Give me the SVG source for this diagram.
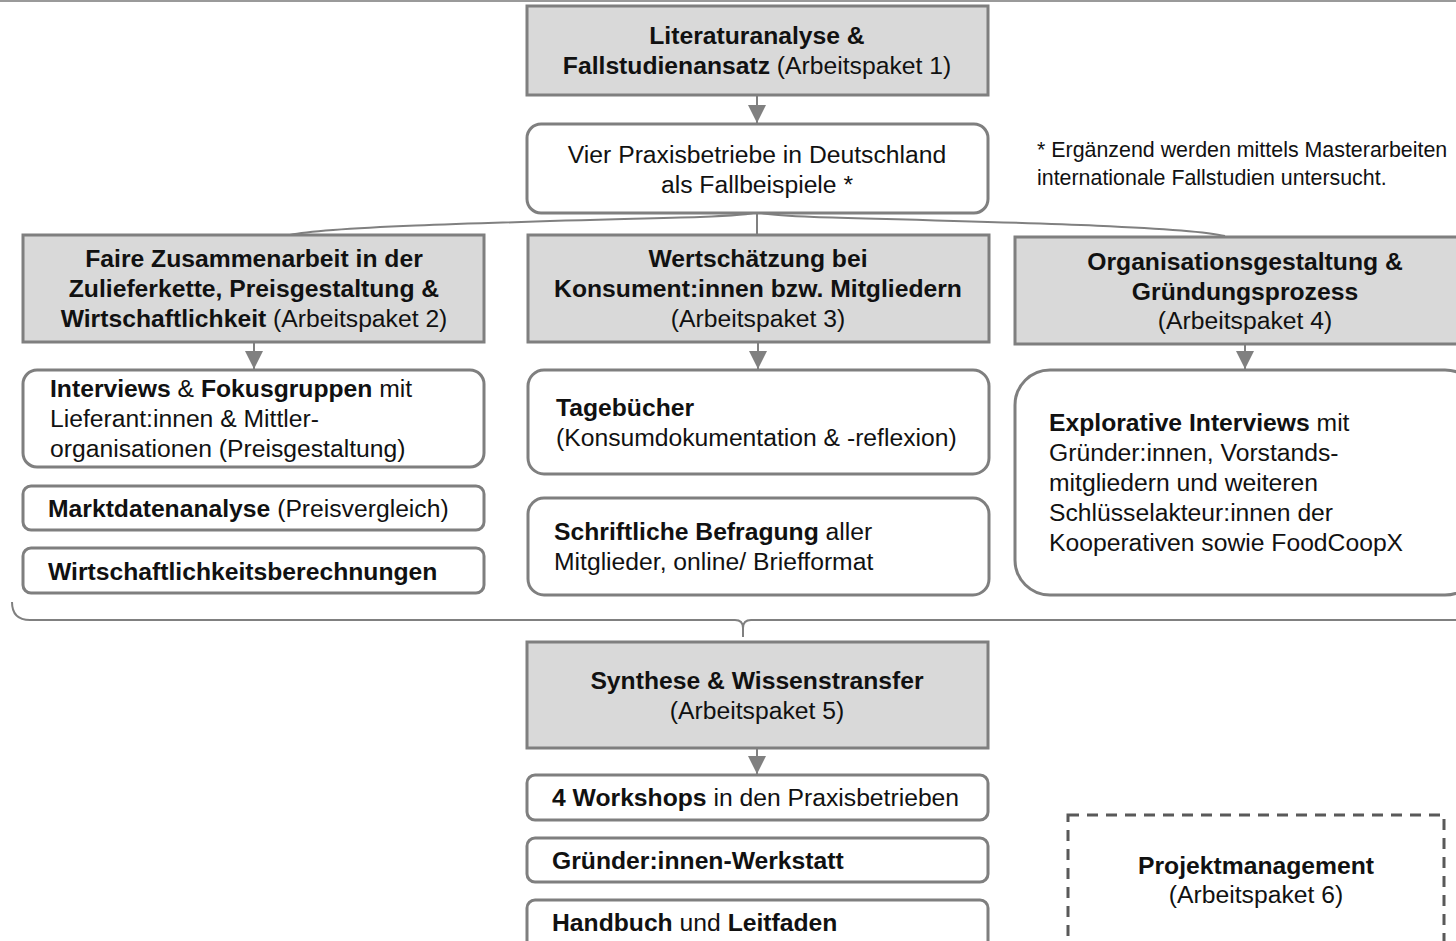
<svg xmlns="http://www.w3.org/2000/svg" width="1456" height="941" viewBox="0 0 1456 941">
<defs>
<style>
.g{fill:#d9d9d9;stroke:#7f7f7f;stroke-width:3}
.w{fill:#ffffff;stroke:#7f7f7f;stroke-width:3}
.d{fill:none;stroke:#595959;stroke-width:3;stroke-dasharray:11 8}
.c{fill:none;stroke:#808080;stroke-width:2}
text{font-family:"Liberation Sans",Arial,sans-serif;font-size:24.7px;fill:#111}
.m{text-anchor:middle}
.b{font-weight:bold}
.n{font-size:21.4px}
</style>
<marker id="ah" viewBox="0 0 18 18" refX="18" refY="9" markerWidth="18" markerHeight="18" markerUnits="userSpaceOnUse" orient="auto">
<path d="M0,0 L18,9 L0,18 Z" fill="#808080"/>
</marker>
</defs>
<rect width="1456" height="941" fill="#ffffff"/>
<line x1="0" y1="1" x2="1456" y2="1" stroke="#9a9a9a" stroke-width="2"/>

<g id="connectors">
<line class="c" x1="757" y1="96" x2="757" y2="123" marker-end="url(#ah)"/>
<path class="c" d="M290,235 C330,226 520,222 700,217 Q750,215 757,212 Q764,215 814,217 C994,222 1185,226 1225,236"/>
<line class="c" x1="757" y1="213" x2="757" y2="235"/>
<line class="c" x1="254" y1="343" x2="254" y2="369" marker-end="url(#ah)"/>
<line class="c" x1="758" y1="343" x2="758" y2="369" marker-end="url(#ah)"/>
<line class="c" x1="1245" y1="345" x2="1245" y2="369" marker-end="url(#ah)"/>
<path class="c" d="M12,602 Q12,620 30,620 L735,620 Q743,620 743,628 L743,637 M743,628 Q743,620 751,620 L1456,620"/>
<line class="c" x1="757" y1="749" x2="757" y2="774" marker-end="url(#ah)"/>
</g>

<g id="ap1">
<rect class="g" x="527" y="6" width="461" height="89"/>
<text class="m b" x="757" y="44">Literaturanalyse &amp;</text>
<text class="m" x="757" y="74"><tspan class="b">Fallstudienansatz</tspan> (Arbeitspaket 1)</text>
</g>

<g id="fall">
<rect class="w" x="527" y="124" width="461" height="89" rx="14"/>
<text class="m" x="757" y="163">Vier Praxisbetriebe in Deutschland</text>
<text class="m" x="757" y="193">als Fallbeispiele *</text>
</g>

<g id="note">
<text class="n" x="1037" y="157">* Ergänzend werden mittels Masterarbeiten</text>
<text class="n" x="1037" y="185">internationale Fallstudien untersucht.</text>
</g>

<g id="ap2">
<rect class="g" x="23" y="235" width="461" height="107"/>
<text class="m b" x="254" y="267">Faire Zusammenarbeit in der</text>
<text class="m b" x="254" y="297">Zulieferkette, Preisgestaltung &amp;</text>
<text class="m" x="254" y="327"><tspan class="b">Wirtschaftlichkeit</tspan> (Arbeitspaket 2)</text>
</g>

<g id="ap3">
<rect class="g" x="528" y="235" width="461" height="107"/>
<text class="m b" x="758" y="267">Wertschätzung bei</text>
<text class="m b" x="758" y="297">Konsument:innen bzw. Mitgliedern</text>
<text class="m" x="758" y="327">(Arbeitspaket 3)</text>
</g>

<g id="ap4">
<rect class="g" x="1015" y="237" width="465" height="107"/>
<text class="m b" x="1245" y="270">Organisationsgestaltung &amp;</text>
<text class="m b" x="1245" y="300">Gründungsprozess</text>
<text class="m" x="1245" y="329">(Arbeitspaket 4)</text>
</g>

<g id="interviews">
<rect class="w" x="23" y="370" width="461" height="97" rx="14"/>
<text x="50" y="397"><tspan class="b">Interviews</tspan> &amp; <tspan class="b">Fokusgruppen</tspan> mit</text>
<text x="50" y="427">Lieferant:innen &amp; Mittler-</text>
<text x="50" y="457">organisationen (Preisgestaltung)</text>
</g>

<g id="markt">
<rect class="w" x="23" y="486" width="461" height="44" rx="8"/>
<text x="48" y="517"><tspan class="b">Marktdatenanalyse</tspan> (Preisvergleich)</text>
</g>

<g id="wirt">
<rect class="w" x="23" y="548" width="461" height="45" rx="8"/>
<text class="b" x="48" y="580">Wirtschaftlichkeitsberechnungen</text>
</g>

<g id="tagebuch">
<rect class="w" x="528" y="370" width="461" height="104" rx="16"/>
<text class="b" x="556" y="416">Tagebücher</text>
<text x="556" y="446">(Konsumdokumentation &amp; -reflexion)</text>
</g>

<g id="befragung">
<rect class="w" x="528" y="498" width="461" height="97" rx="16"/>
<text x="554" y="540"><tspan class="b">Schriftliche Befragung</tspan> aller</text>
<text x="554" y="570">Mitglieder, online/ Briefformat</text>
</g>

<g id="explorativ">
<rect class="w" x="1015" y="370" width="465" height="225" rx="35"/>
<text x="1049" y="431"><tspan class="b">Explorative Interviews</tspan> mit</text>
<text x="1049" y="461">Gründer:innen, Vorstands-</text>
<text x="1049" y="491">mitgliedern und weiteren</text>
<text x="1049" y="521">Schlüsselakteur:innen der</text>
<text x="1049" y="551">Kooperativen sowie FoodCoopX</text>
</g>

<g id="ap5">
<rect class="g" x="527" y="642" width="461" height="106"/>
<text class="m b" x="757" y="689">Synthese &amp; Wissenstransfer</text>
<text class="m" x="757" y="719">(Arbeitspaket 5)</text>
</g>

<g id="workshops">
<rect class="w" x="527" y="775" width="461" height="45" rx="8"/>
<text x="552" y="806"><tspan class="b">4 Workshops</tspan> in den Praxisbetrieben</text>
</g>

<g id="werkstatt">
<rect class="w" x="527" y="838" width="461" height="44" rx="8"/>
<text class="b" x="552" y="869">Gründer:innen-Werkstatt</text>
</g>

<g id="handbuch">
<rect class="w" x="527" y="900" width="461" height="60" rx="8"/>
<text x="552" y="931"><tspan class="b">Handbuch</tspan> und <tspan class="b">Leitfaden</tspan></text>
</g>

<g id="ap6">
<rect class="d" x="1068" y="815" width="376" height="150"/>
<text class="m b" x="1256" y="874">Projektmanagement</text>
<text class="m" x="1256" y="903">(Arbeitspaket 6)</text>
</g>
</svg>
